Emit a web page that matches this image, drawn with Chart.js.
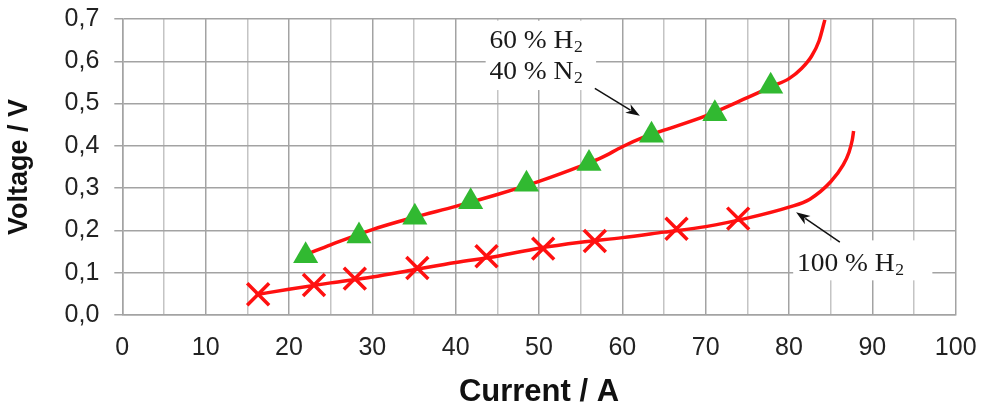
<!DOCTYPE html>
<html>
<head>
<meta charset="utf-8">
<script src="https://cdn.jsdelivr.net/npm/chart.js@4.4.1/dist/chart.umd.min.js"></script>
<style>
  html, body { margin: 0; padding: 0; background: #ffffff; }
  #wrap { width: 989px; height: 409px; }
</style>
</head>
<body>
<div id="wrap"><canvas id="c" width="989" height="409"></canvas></div>
<script>
// ---- data ----
const current60 = [22.0, 28.4, 35.1, 41.8, 48.5, 56.0, 63.5, 71.1, 77.8];
const voltage60 = [0.140, 0.187, 0.231, 0.268, 0.309, 0.358, 0.425, 0.476, 0.541];

const current100 = [16.3, 23.0, 27.9, 35.4, 43.7, 50.5, 56.7, 66.5, 73.9];
const voltage100 = [0.049, 0.071, 0.086, 0.111, 0.139, 0.157, 0.175, 0.204, 0.228];

const fitCurrent60 = [22.3, 25, 30, 35, 40, 45, 50, 55, 57.5, 60, 62.5, 65, 70, 75, 78, 80, 81.5, 82.7, 83.6, 84.3];
const fitVoltage60 = [0.145, 0.166, 0.202, 0.231, 0.257, 0.285, 0.316, 0.352, 0.372, 0.398, 0.420, 0.437, 0.471, 0.514, 0.541, 0.559, 0.583, 0.612, 0.648, 0.698];

const fitCurrent100 = [16.0, 20, 25, 30, 35, 40, 45, 50, 55, 60, 65, 70, 75, 80, 82.5, 85, 86.5, 87.2, 87.6, 87.75];
const fitVoltage100 = [0.048, 0.061, 0.076, 0.090, 0.107, 0.124, 0.139, 0.158, 0.172, 0.183, 0.196, 0.209, 0.229, 0.255, 0.274, 0.315, 0.355, 0.385, 0.415, 0.435];

const xTickLabels = ['0', '10', '20', '30', '40', '50', '60', '70', '80', '90', '100'];
const yTickLabels = ['0,0', '0,1', '0,2', '0,3', '0,4', '0,5', '0,6', '0,7'];

const xTitle = 'Current / A';
const yTitle = 'Voltage / V';
const label60a = ['60 % H', '2'];
const label60b = ['40 % N', '2'];
const label100 = ['100 % H', '2'];

function pts(xs, ys) { return xs.map((x, i) => ({ x: x, y: ys[i] })); }

const SERIF = '"Liberation Serif", "Times New Roman", serif';
const SANS = '"Liberation Sans", Arial, sans-serif';

function drawSub(ctx, parts, x, y) {
  ctx.save();
  ctx.translate(x, y);
  ctx.scale(1.1, 1);
  ctx.fillStyle = '#1a1a1a';
  ctx.textBaseline = 'alphabetic';
  ctx.textAlign = 'left';
  ctx.font = '25px ' + SERIF;
  ctx.fillText(parts[0], 0, 0);
  const w = ctx.measureText(parts[0]).width;
  ctx.font = '16px ' + SERIF;
  ctx.fillText(parts[1], w + 0.5, 4);
  ctx.restore();
}

function arrow(ctx, x1, y1, x2, y2) {
  const ang = Math.atan2(y2 - y1, x2 - x1);
  const L = 14, H = 5;
  ctx.save();
  ctx.strokeStyle = '#111';
  ctx.fillStyle = '#111';
  ctx.lineWidth = 1.5;
  ctx.beginPath();
  ctx.moveTo(x1, y1);
  ctx.lineTo(x2 - Math.cos(ang) * (L - 3), y2 - Math.sin(ang) * (L - 3));
  ctx.stroke();
  ctx.translate(x2, y2);
  ctx.rotate(ang);
  ctx.beginPath();
  ctx.moveTo(0, 0);
  ctx.lineTo(-L, -H);
  ctx.lineTo(-L + 4, 0);
  ctx.lineTo(-L, H);
  ctx.closePath();
  ctx.fill();
  ctx.restore();
}

const annotations = {
  id: 'annotations',
  beforeDatasetsDraw(chart) {
    const ctx = chart.ctx;
    const xs = chart.scales.x, ys = chart.scales.y;
    const px = v => xs.getPixelForValue(v);
    const py = v => ys.getPixelForValue(v);
    ctx.save();
    ctx.fillStyle = '#ffffff';
    // label boxes (data units)
    ctx.fillRect(px(43.6), py(0.696), px(56.85) - px(43.6), py(0.532) - py(0.696));
    ctx.fillRect(px(80.5), py(0.1765), px(97.2) - px(80.5), py(0.082) - py(0.1765));
    ctx.restore();
    drawSub(ctx, label60a, px(44.05), py(0.631));
    drawSub(ctx, label60b, px(44.05), py(0.557));
    drawSub(ctx, label100, px(80.95), py(0.104));
    arrow(ctx, px(56.7), py(0.536), px(62.1), py(0.471));
    arrow(ctx, px(86.1), py(0.1725), px(80.85), py(0.243));
  }
};

const MAJOR = '#a3a3a3';
const MINOR = '#c4c4c4';

new Chart(document.getElementById('c'), {
  type: 'scatter',
  data: {
    datasets: [
      {
        label: '60 % H2 / 40 % N2',
        data: pts(current60, voltage60),
        showLine: false,
        pointStyle: 'triangle',
        pointRadius: 14.5,
        pointBackgroundColor: '#31b931',
        pointBorderColor: '#31b931',
        pointBorderWidth: 0,
        order: 0
      },
      {
        label: '100 % H2',
        data: pts(current100, voltage100),
        showLine: false,
        pointStyle: 'crossRot',
        pointRadius: 15.5,
        pointBorderColor: '#ff1010',
        pointBorderWidth: 3.5,
        order: 1
      },
      {
        label: 'fit 60 % H2',
        data: pts(fitCurrent60, fitVoltage60),
        showLine: true,
        pointRadius: 0,
        borderColor: '#ff1010',
        borderWidth: 3.5,
        cubicInterpolationMode: 'monotone',
        order: 2
      },
      {
        label: 'fit 100 % H2',
        data: pts(fitCurrent100, fitVoltage100),
        showLine: true,
        pointRadius: 0,
        borderColor: '#ff1010',
        borderWidth: 3.5,
        cubicInterpolationMode: 'monotone',
        order: 3
      }
    ]
  },
  options: {
    responsive: false,
    animation: false,
    devicePixelRatio: 1,
    layout: { padding: { top: 17.7, right: 33.3, bottom: 0, left: 0 } },
    plugins: { legend: { display: false }, tooltip: { enabled: false } },
    scales: {
      x: {
        type: 'linear',
        min: 0, max: 100,
        afterFit(scale) {
          scale.height = 94;
          scale.paddingLeft = 0;
          scale.paddingRight = 0;
        },
        border: { display: true, color: MAJOR, width: 1.5 },
        grid: {
          drawTicks: false,
          lineWidth: 1.5,
          color: c => (c.tick && Math.round(c.tick.value) % 10 !== 0) ? MINOR : MAJOR
        },
        ticks: {
          stepSize: 5,
          autoSkip: false,
          maxRotation: 0,
          padding: 18,
          color: '#222',
          font: { family: SANS, size: 25 },
          callback: (v, i) => (i % 2 === 0 ? xTickLabels[i / 2] : '')
        },
        title: {
          display: true,
          text: xTitle,
          color: '#111',
          font: { family: SANS, size: 31, weight: 'bold', lineHeight: 1 },
          padding: { top: 0, bottom: 1 }
        }
      },
      y: {
        type: 'linear',
        min: 0, max: 0.7,
        afterFit(scale) {
          scale.width = 122.3;
          scale.paddingTop = 0;
          scale.paddingBottom = 0;
        },
        border: { display: true, color: MAJOR, width: 1.5 },
        grid: { drawTicks: true, tickLength: 8, lineWidth: 1.5, color: MAJOR },
        ticks: {
          stepSize: 0.1,
          padding: 15,
          color: '#222',
          font: { family: SANS, size: 25 },
          callback: (v, i) => yTickLabels[i]
        },
        title: {
          display: true,
          text: yTitle,
          color: '#111',
          font: { family: SANS, size: 27, weight: 'bold', lineHeight: 1 },
          padding: { top: 6.5, bottom: 0 }
        }
      }
    }
  },
  plugins: [annotations]
});
</script>
</body>
</html>
